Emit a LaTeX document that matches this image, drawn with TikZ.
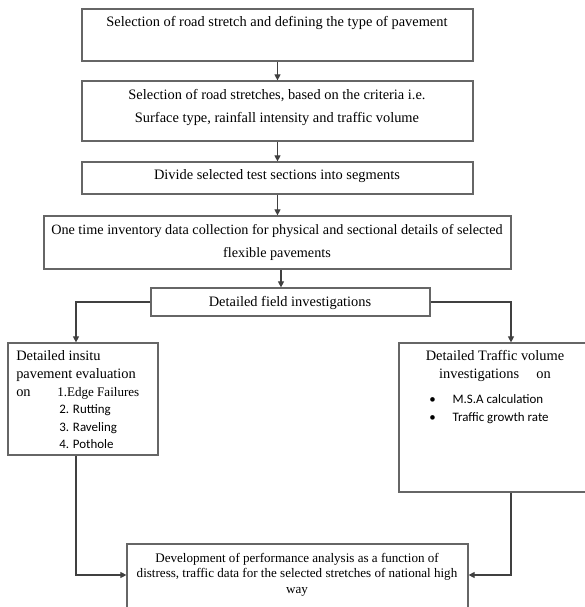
\documentclass[tikz,border=0pt]{standalone}
\usepackage{fontspec}
\setmainfont{Liberation Serif}
\newfontfamily\calfont{Carlito}
\usetikzlibrary{arrows.meta,fit}
\tikzset{
  box/.style={draw=black!60, line width=0.9pt, inner sep=0pt, fill=none},
  base/.style={inner sep=0pt, text height=0.68em, text depth=0.2em, yshift=-1.4pt},
  txt/.style={base, font=\fontsize{10.8pt}{12pt}\selectfont},
  txtb/.style={base, font=\fontsize{10.65pt}{12pt}\selectfont},
  mid/.style={base, anchor=west, font=\fontsize{9.8pt}{11pt}\selectfont},
  small/.style={base, font=\fontsize{9.8pt}{11pt}\selectfont},
  lst/.style={base, anchor=west, font=\calfont\fontsize{9.7pt}{11pt}\selectfont},
  arr/.style={draw=black!75, line width=0.8pt, -{Triangle[length=4.5pt,width=4.5pt]}},
}
\begin{document}
\begin{tikzpicture}[x=0.75pt,y=-0.75pt]
\useasboundingbox (0,0) rectangle (585,607);
\clip (0,0) rectangle (585,607);
% boxes
\node[box, fit={(82,9)(473,61)}] (b1) {};
\node[box, fit={(82,81)(473,141)}] (b2) {};
\node[box, fit={(82,162)(473,194)}] (b3) {};
\node[box, fit={(44,216)(511,269)}] (b4) {};
\node[box, fit={(151,288)(430,316)}] (b5) {};
\node[box, fit={(8,343)(158,455)}] (b6) {};
\node[box, fit={(399,343)(590,492)}] (b7) {};
\node[box, fit={(127,544)(468,615)}] (b8) {};
% texts
\node[txt] (t1) at (277,21) {Selection of road stretch and defining the type of pavement};
\node[txt] (t2a) at (277,94) {Selection of road stretches, based on the criteria i.e.};
\node[txt] (t2b) at (277,117) {Surface type, rainfall intensity and traffic volume};
\node[txt] (t3) at (277,174) {Divide selected test sections into segments};
\node[txtb] (t4a) at (277,229) {One time inventory data collection for physical and sectional details of selected};
\node[txtb] (t4b) at (277,252) {flexible pavements};
\node[txt] (t5) at (290,301) {Detailed field investigations};
\node[txt, anchor=west] (t6a) at (16,355) {Detailed insitu};
\node[txt, anchor=west] (t6b) at (16,373) {pavement evaluation};
\node[txt, anchor=west] (t6c) at (16,391) {on};
\node[mid] (t6d) at (57,391) {1.Edge Failures};
\node[lst] (t6e) at (59,408) {2. Rutting};
\node[lst] (t6f) at (59,426) {3. Raveling};
\node[lst] (t6g) at (59,443) {4. Pothole};
\node[txt] (t7a) at (495,355) {Detailed Traffic volume};
\node[txt] (t7b) at (495,373) {investigations\hspace{1.2em}on};
\node[lst] (t7c) at (429,398) {\textbullet\hspace{1.3em}M.S.A calculation};
\node[lst] (t7d) at (429,416) {\textbullet\hspace{1.3em}Traffic growth rate};
\node[small] (t8a) at (297,557) {Development of performance analysis as a function of};
\node[small] (t8b) at (297,572) {distress, traffic data for the selected stretches of national high};
\node[small] (t8c) at (297,588) {way};
% helper coordinates
\coordinate (x6) at (76,0);
\coordinate (x7) at (511,0);
\coordinate (x5) at (281,0);
\coordinate (y8) at (0,575);
% connectors
\draw[arr] (b1.south) -- (b2.north);
\draw[arr] (b2.south) -- (b3.north);
\draw[arr] (b3.south) -- (b4.north);
\draw[arr] (x5 |- b4.south) -- (x5 |- b5.north);
\draw[arr] (b5.west) -| (x6 |- b6.north);
\draw[arr] (b5.east) -| (x7 |- b7.north);
\draw[arr] (x6 |- b6.south) |- (b8.west |- y8);
\draw[arr] (x7 |- b7.south) |- (b8.east |- y8);
\end{tikzpicture}
\end{document}
